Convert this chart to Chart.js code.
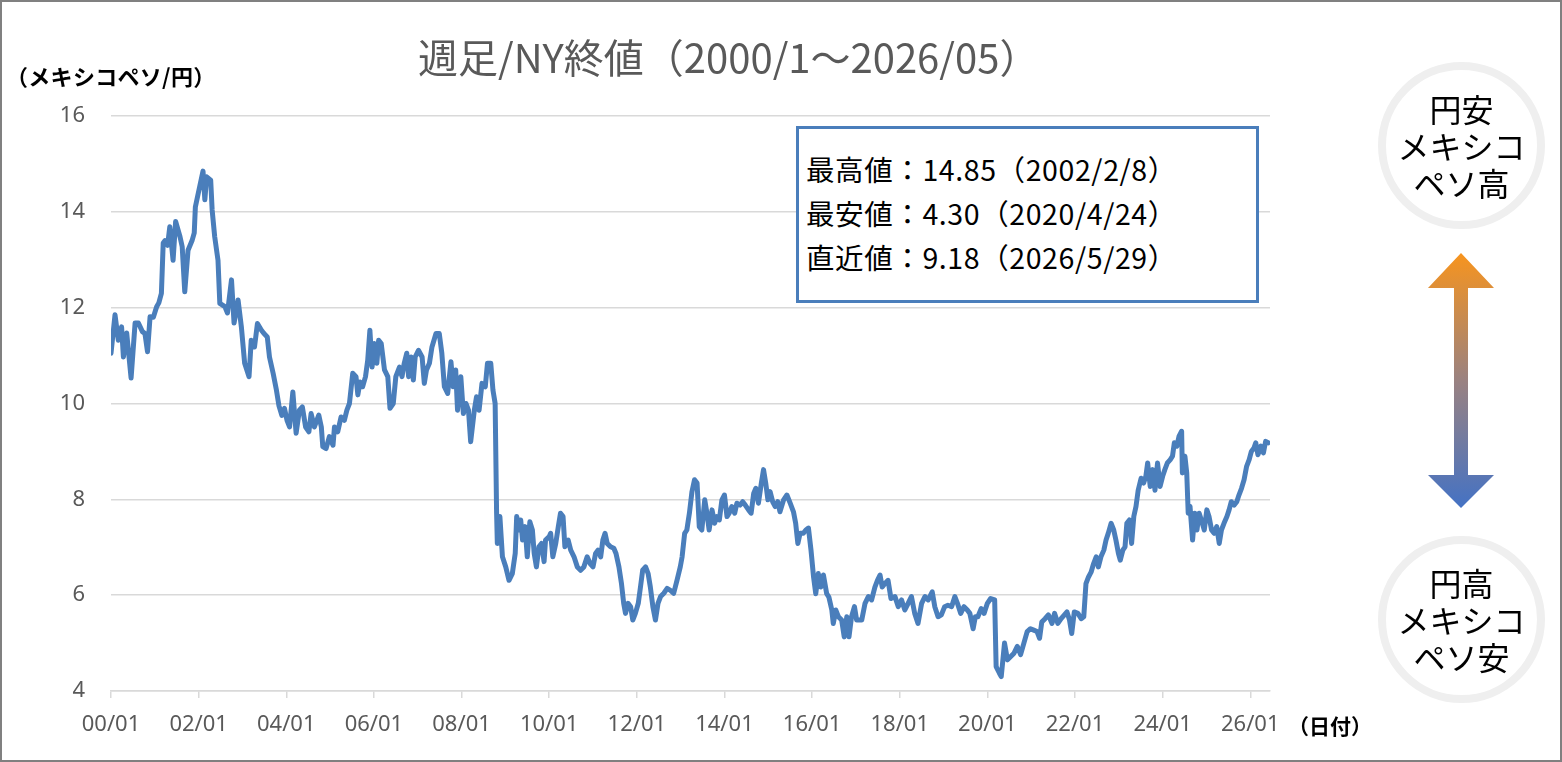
<!DOCTYPE html>
<html lang="ja">
<head>
<meta charset="utf-8">
<title>週足/NY終値（2000/1～2026/05）</title>
<script src="https://cdn.jsdelivr.net/npm/chart.js@4/dist/chart.umd.min.js"></script>
<style>
  html, body { margin: 0; padding: 0; background: #ffffff; overflow: hidden; }
  #wrap { position: relative; width: 1562px; height: 762px; }
  #c { position: absolute; left: 0; top: 0; }
  .abs { position: absolute; white-space: nowrap; font-family: "Noto Sans CJK JP", "Noto Sans", sans-serif; }
  #frame { left: 0; top: 0; width: 1562px; height: 762px; border: 2px solid #808080; box-sizing: border-box; pointer-events: none; }
  #title { left: 418px; top: 32px; font-size: 40px; line-height: 48px; color: #595959; }
  #yunit { left: 6px; top: 62px; font-size: 22px; line-height: 26px; color: #000; font-weight: bold; letter-spacing: 0.3px; }
  #xunit { left: 1288px; top: 711px; font-size: 21px; line-height: 28px; color: #000; font-weight: bold; }
  #info { left: 796px; top: 126px; width: 463px; height: 177px; border: 3px solid #4a7ebb; box-sizing: border-box; background: #fff;
          padding: 18px 0 0 7px; font-size: 28.5px; line-height: 44px; color: #000; letter-spacing: 0.6px; }
  .circle { width: 167px; height: 167px; border: 8px solid #efefef; border-radius: 50%; box-sizing: border-box;
            display: flex; flex-direction: column; align-items: center; justify-content: center;
            font-size: 32px; line-height: 37px; color: #000; }
  #c1 { left: 1378px; top: 62px; }
  #c2 { left: 1378px; top: 536px; }
  #arrow { position: absolute; left: 0; top: 0; }
</style>
</head>
<body>
<div id="wrap">
  <canvas id="c" width="1562" height="762"></canvas>
  <div class="abs" id="title">週足/NY終値（2000/1～2026/05）</div>
  <div class="abs" id="yunit">（メキシコペソ/円）</div>
  <div class="abs" id="xunit">（日付）</div>
  <div class="abs" id="info">最高値：14.85（2002/2/8）<br>最安値：4.30（2020/4/24）<br>直近値：9.18（2026/5/29）</div>
  <div class="abs circle" id="c1"><div>円安</div><div>メキシコ</div><div>ペソ高</div></div>
  <div class="abs circle" id="c2"><div>円高</div><div>メキシコ</div><div>ペソ安</div></div>
  <svg id="arrow" width="1562" height="762" viewBox="0 0 1562 762">
    <defs>
      <linearGradient id="g" x1="0" y1="253" x2="0" y2="508" gradientUnits="userSpaceOnUse">
        <stop offset="0" stop-color="#f7941e"/>
        <stop offset="0.5" stop-color="#9a8281"/>
        <stop offset="1" stop-color="#4472c4"/>
      </linearGradient>
    </defs>
    <polygon fill="url(#g)" points="1461,253 1494,288 1468,288 1468,475 1494,475 1461,508 1428,475 1454,475 1454,288 1428,288"/>
  </svg>
  <div class="abs" id="frame"></div>
</div>
<script>
// Months elapsed since 2000/01 (time position of each reading)
const monthOffsets = [
  0,1.1,2.0,2.9,3.4,4.3,5.5,6.6,7.5,8.6,9.3,10.0,10.7,11.6,12.5,13.1,13.8,14.3,14.8,15.5,
  16.1,17.0,17.7,18.9,19.5,20.2,21.1,22.2,22.8,23.1,23.9,25.2,25.7,26.2,27.3,27.7,28.4,29.3,29.8,31.2,
  31.9,33.0,33.7,34.8,35.7,36.6,37.8,38.4,39.3,40.1,41.2,41.9,42.8,43.4,44.4,45.3,46.0,46.8,47.5,48.2,
  48.9,49.8,50.7,51.6,52.4,53.3,54.2,54.8,55.7,56.9,57.6,58.0,58.9,59.8,60.8,61.2,62.1,63.0,63.9,64.6,
  65.3,66.2,67.1,67.6,68.2,68.9,69.7,70.3,70.9,71.5,72.1,72.8,73.3,74.0,74.9,75.8,76.4,77.3,78.0,79.0,
  79.7,80.3,81.0,81.5,82.2,82.8,83.3,84.2,85.2,85.8,86.4,87.2,87.9,89.0,89.9,90.6,91.3,92.2,93.1,93.7,
  94.4,94.9,95.8,96.5,97.2,97.9,98.5,99.5,100.1,100.8,101.6,102.5,103.1,104.0,104.6,105.2,105.6,105.8,106.5,107.2,
  108.1,109.0,109.9,110.7,111.1,111.8,112.2,112.7,113.4,114.0,114.7,115.4,115.9,116.5,117.2,117.9,118.6,119.0,120.0,120.4,
  121.0,121.8,122.5,123.1,123.8,124.3,125.2,125.9,126.8,127.7,128.6,129.5,130.4,131.2,132.0,132.7,133.4,134.1,134.7,135.3,
  135.9,136.8,137.7,138.3,139.1,139.8,140.4,140.9,141.6,142.3,142.9,143.6,144.4,145.0,145.6,146.4,147.1,147.7,148.4,149.1,
  149.8,150.5,151.4,152.3,153.2,154.1,155.0,155.9,156.4,157.1,157.7,158.4,159.1,159.8,160.5,161.1,161.8,162.6,163.2,163.8,
  164.6,165.3,165.9,166.6,167.3,168.0,168.7,169.3,170.0,170.8,171.4,172.3,173.0,173.7,174.6,175.3,176.0,176.6,177.3,178.1,
  178.7,179.3,179.9,180.5,181.2,181.9,182.6,183.2,184.2,185.1,186.0,186.9,187.5,188.1,188.7,189.6,190.3,191.0,191.7,192.4,
  193.0,193.7,194.4,195.1,196.0,196.6,197.4,197.8,198.5,199.2,200.1,200.8,201.5,202.1,202.8,203.6,204.2,205.6,206.5,207.4,
  208.3,209.2,209.9,210.6,211.2,211.9,212.8,213.6,214.7,215.6,216.5,217.4,218.3,219.2,220.1,221.0,222.0,222.9,223.8,224.9,
  225.6,226.5,227.4,228.3,229.2,230.2,231.1,231.8,232.7,233.6,234.5,235.2,236.1,236.7,237.4,238.3,239.1,240.0,240.9,242.0,
  242.4,243.3,243.8,244.7,245.5,246.4,247.3,248.2,249.1,250.0,250.9,251.8,252.7,253.6,254.3,254.9,255.8,256.7,257.7,258.4,
  259.3,260.2,261.1,261.8,262.5,263.1,263.8,264.8,265.7,266.4,267.0,267.7,268.4,269.1,269.8,270.4,271.1,271.9,272.5,273.1,
  273.9,274.6,275.2,275.9,276.4,277.1,277.7,278.2,278.9,279.5,280.1,280.7,281.3,282.1,282.8,283.4,283.9,284.6,285.3,285.9,
  286.6,287.3,288.0,288.6,289.3,290.1,290.7,291.2,291.9,292.5,293.2,293.4,294.1,294.6,295.0,295.5,296.2,296.8,297.4,298.0,
  298.6,299.4,300.1,300.7,301.4,302.1,302.8,303.5,304.1,304.8,305.6,306.2,306.8,307.6,308.3,308.9,309.6,310.3,311.0,311.7,
  312.3,313.0,313.5,314.1,314.9,315.6,316.2,316.9
];
// MXN/JPY weekly NY close
const mxnJpy = [
  11.05,11.85,11.32,11.6,10.97,11.47,10.53,11.68,11.68,11.5,11.46,11.08,11.81,11.8,12.02,12.1,12.3,13.35,13.4,13.3,
  13.69,12.99,13.8,13.48,13.27,12.33,13.2,13.4,13.56,14.1,14.39,14.85,14.25,14.73,14.66,14.04,13.48,12.99,12.09,12.02,
  11.89,12.58,11.68,12.16,11.6,10.84,10.56,11.32,11.18,11.67,11.53,11.46,11.39,10.97,10.63,10.28,9.95,9.75,9.9,9.65,
  9.51,10.24,9.38,9.86,9.93,9.51,9.41,9.79,9.51,9.76,9.51,9.1,9.06,9.31,9.13,9.51,9.41,9.72,9.65,9.86,
  10.0,10.63,10.56,10.18,10.45,10.35,10.56,10.9,11.53,10.76,11.25,10.84,11.32,11.25,10.7,10.56,9.9,10.0,10.56,10.76,
  10.56,10.84,11.05,10.56,10.97,10.49,10.97,11.11,10.97,10.42,10.7,10.84,11.18,11.46,11.46,11.05,10.35,10.21,10.87,10.35,
  10.7,9.86,10.56,9.79,10.0,9.86,9.2,9.86,10.14,9.86,10.42,10.35,10.84,10.84,10.28,10.0,7.71,7.08,7.64,6.8,
  6.59,6.31,6.45,6.87,7.64,7.36,7.57,7.15,7.43,6.8,7.53,7.36,6.87,6.59,7.01,7.08,6.7,7.15,7.22,7.29,
  6.8,7.08,7.43,7.71,7.64,7.01,7.15,6.94,6.8,6.59,6.52,6.59,6.8,6.66,6.59,6.87,6.94,6.8,7.15,7.29,
  7.08,7.01,6.98,6.87,6.59,6.24,5.83,5.62,5.83,5.76,5.48,5.62,5.83,6.17,6.52,6.59,6.45,6.17,5.76,5.48,
  5.83,5.97,6.04,6.14,6.1,6.04,6.31,6.59,6.8,7.29,7.36,7.71,8.16,8.41,8.34,7.43,7.36,7.99,7.71,7.36,
  7.78,7.5,7.64,7.57,7.99,8.09,7.64,7.71,7.85,7.71,7.92,7.88,7.95,7.88,7.78,7.71,8.12,8.23,7.92,8.34,
  8.62,8.34,7.99,8.16,7.95,7.85,7.95,7.74,7.99,8.09,7.92,7.74,7.5,7.08,7.29,7.29,7.36,7.4,6.94,6.38,
  6.03,6.45,6.17,6.42,6.03,5.96,5.69,5.41,5.69,5.55,5.48,5.13,5.55,5.13,5.55,5.76,5.48,5.48,5.83,5.97,
  5.9,6.17,6.31,6.42,6.17,6.24,6.31,5.93,5.97,5.76,5.9,5.69,5.83,5.97,5.62,5.41,5.83,5.97,5.9,6.07,
  5.76,5.55,5.59,5.76,5.79,5.76,5.97,5.83,5.62,5.76,5.69,5.62,5.3,5.55,5.55,5.72,5.62,5.83,5.93,5.9,
  4.51,4.37,4.30,5.0,4.65,4.72,4.79,4.93,4.76,5.0,5.24,5.3,5.27,5.24,5.1,5.44,5.51,5.59,5.41,5.62,
  5.41,5.51,5.59,5.65,5.48,5.2,5.65,5.62,5.51,5.55,6.24,6.38,6.48,6.66,6.8,6.59,6.8,6.94,7.15,7.29,
  7.5,7.36,7.15,6.87,6.73,6.94,7.01,7.5,7.57,7.08,7.64,7.85,8.19,8.44,8.34,8.48,8.76,8.27,8.62,8.19,
  8.76,8.27,8.48,8.62,8.76,8.83,8.9,9.18,9.11,9.32,9.42,8.55,8.9,8.55,7.71,7.85,7.15,7.71,7.36,7.71,
  7.57,7.36,7.78,7.64,7.36,7.29,7.43,7.08,7.36,7.5,7.64,7.78,7.95,7.88,7.95,8.09,8.23,8.41,8.69,8.83,
  9.0,9.07,9.18,8.93,9.11,8.97,9.21,9.18
];
const tickMonths = [0,24,48,72,96,120,144,168,192,216,240,264,288,312];
const tickLabels = ["00/01","02/01","04/01","06/01","08/01","10/01","12/01","14/01","16/01","18/01","20/01","22/01","24/01","26/01"];
const yTicks = [4,6,8,10,12,14,16];

const points = monthOffsets.map((m, i) => ({ x: m, y: mxnJpy[i] }));
const tickFont = { family: "'Noto Sans', 'Open Sans', sans-serif", size: 22 };

new Chart(document.getElementById('c'), {
  type: 'line',
  data: {
    datasets: [{
      data: points,
      borderColor: '#4a7ebb',
      borderWidth: 5,
      pointRadius: 0,
      tension: 0,
      borderJoinStyle: 'round',
      borderCapStyle: 'round',
      fill: false
    }]
  },
  options: {
    responsive: false,
    animation: false,
    devicePixelRatio: 1,
    layout: { padding: { top: 116, right: 292, bottom: 0, left: 0 } },
    plugins: { legend: { display: false }, tooltip: { enabled: false }, title: { display: false } },
    scales: {
      x: {
        type: 'linear',
        min: 0,
        max: 317.4,
        afterBuildTicks: (s) => { s.ticks = tickMonths.map(v => ({ value: v })); },
        afterFit: (s) => { s.height = 71; },
        ticks: {
          autoSkip: false,
          maxRotation: 0,
          minRotation: 0,
          padding: 14,
          color: '#595959',
          font: tickFont,
          callback: (v, i) => tickLabels[i]
        },
        grid: { drawOnChartArea: false, drawTicks: true, tickLength: 7, color: '#d9d9d9', lineWidth: 1.5 },
        border: { display: true, color: '#d9d9d9', width: 1.5 }
      },
      y: {
        min: 4,
        max: 16,
        afterBuildTicks: (s) => { s.ticks = yTicks.map(v => ({ value: v })); },
        afterFit: (s) => { s.width = 111; },
        ticks: { padding: 26, color: '#595959', font: tickFont },
        grid: { drawTicks: false, color: '#d9d9d9', lineWidth: 1.5 },
        border: { display: false }
      }
    }
  }
});
</script>
</body>
</html>
